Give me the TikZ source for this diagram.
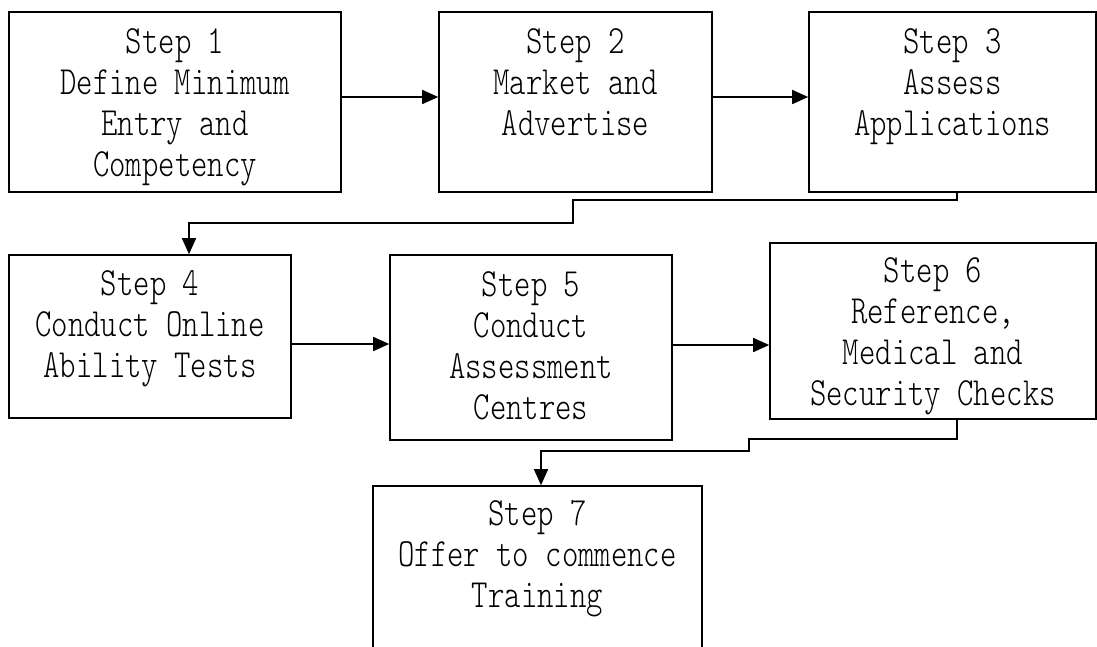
\documentclass[tikz,border=0pt]{standalone}
\usepackage{fontspec}
\newfontfamily\stepfont{lmmonolt10-regular.otf}[FakeStretch=0.78]
\usetikzlibrary{positioning,arrows.meta}
\begin{document}
\begin{tikzpicture}[x=1pt,y=-1pt,
  stepbox/.style={draw,line width=1.6pt,inner sep=0pt},
  steptext/.style={inner sep=0pt,align=center,font=\stepfont\fontsize{40pt}{41pt}\selectfont},
  flow/.style={draw,line width=1.6pt,-{Triangle[length=16pt,width=14pt]}}]
\useasboundingbox (0,0) rectangle (1097,646);
\node [stepbox,minimum width=332pt,minimum height=180pt] (s1) at (175,102) {};
\node [stepbox,minimum width=273pt,minimum height=180pt] (s2) at (575.5,102) {};
\node [stepbox,minimum width=287pt,minimum height=180pt] (s3) at (952.5,102) {};
\node [stepbox,minimum width=282pt,minimum height=163pt] (s4) at (150,336.5) {};
\node [stepbox,minimum width=282pt,minimum height=185pt] (s5) at (531,347.5) {};
\node [stepbox,minimum width=326pt,minimum height=176pt] (s6) at (933,331) {};
\node [stepbox,minimum width=329pt,minimum height=194pt] (s7) at (537.5,583) {};
\node [steptext,below=17pt of s1.north] (t1) {Step 1\\Define Minimum\\Entry and\\Competency};
\node [steptext,below=17pt of s2.north] (t2) {Step 2\\Market and\\Advertise};
\node [steptext,below=17pt of s3.north] (t3) {Step 3\\Assess\\Applications};
\node [steptext,below=16pt of s4.north] (t4) {Step 4\\Conduct Online\\Ability Tests};
\node [steptext,below=17pt of s5.north] (t5) {Step 5\\Conduct\\Assessment\\Centres};
\node [steptext,below=15pt of s6.north] (t6) {Step 6\\Reference,\\Medical and\\Security Checks};
\node [steptext,below=15pt of s7.north] (t7) {Step 7\\Offer to commence\\Training};
\coordinate (k1) at (573,200);
\coordinate (k2) at (189,223);
\coordinate (k3) at (749,439);
\coordinate (k4) at (541,451);
\draw [flow] ([yshift=5pt]s1.east) -- ([yshift=5pt]s1.east -| s2.west);
\draw [flow] ([yshift=5pt]s2.east) -- ([yshift=5pt]s2.east -| s3.west);
\draw [flow] ([xshift=4.5pt]s3.south) |- (k1) |- (k2) -- (k2 |- s4.north);
\draw [flow] ([yshift=-7.5pt]s4.east) -- ([yshift=-7.5pt]s4.east -| s5.west);
\draw [flow] ([yshift=2.5pt]s5.east) -- ([yshift=2.5pt]s5.east -| s6.west);
\draw [flow] ([xshift=24pt]s6.south) |- (k3) |- (k4) -- (k4 |- s7.north);
\end{tikzpicture}
\end{document}
